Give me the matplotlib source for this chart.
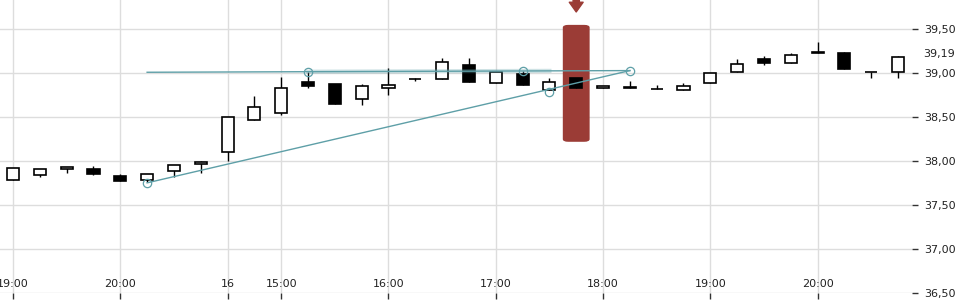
import matplotlib
matplotlib.use("Agg")
import matplotlib.pyplot as plt
from matplotlib.patches import FancyBboxPatch
from matplotlib.transforms import blended_transform_factory
import numpy as np

# OHLC values, 15 minute candles
opens = [37.79, 37.84, 37.91, 37.91, 37.83, 37.785, 37.886, 37.966, 38.10, 38.466,
         38.545, 38.898, 38.878, 38.705, 38.83, 38.93, 38.93, 39.09, 38.886, 38.99,
         38.807, 38.943, 38.83, 38.844, 38.818, 38.807, 38.886, 39.011, 39.162, 39.12,
         39.24, 39.23, 39.015, 39.011]
closes = [37.92, 37.91, 37.93, 37.85, 37.77, 37.85, 37.955, 37.99, 38.50, 38.614,
          38.83, 38.86, 38.655, 38.852, 38.864, 38.935, 39.125, 38.905, 39.01, 38.864,
          38.898, 38.83, 38.852, 38.83, 38.818, 38.852, 39.0, 39.102, 39.12, 39.205,
          39.227, 39.052, 39.015, 39.185]
highs = [37.92, 37.91, 37.93, 37.94, 37.85, 37.85, 37.955, 38.003, 38.50, 38.74,
         38.96, 39.015, 38.878, 38.875, 39.06, 38.947, 39.17, 39.17, 39.01, 39.026,
         38.943, 38.943, 38.852, 38.91, 38.864, 38.886, 39.0, 39.16, 39.196, 39.23,
         39.36, 39.242, 39.015, 39.197]
lows = [37.78, 37.825, 37.86, 37.84, 37.77, 37.757, 37.82, 37.87, 38.0, 38.466,
        38.52, 38.836, 38.655, 38.643, 38.757, 38.91, 38.93, 38.905, 38.886, 38.864,
        38.807, 38.83, 38.83, 38.83, 38.818, 38.807, 38.886, 39.011, 39.094, 39.12,
        39.227, 39.052, 38.943, 38.943]

tick_idx = [0, 4, 8, 10, 14, 18, 22, 26, 30]
tick_labels = ["19:00", "20:00", "16", "15:00", "16:00", "17:00", "18:00", "19:00", "20:00"]
y_ticks = [36.5, 37.0, 37.5, 38.0, 38.5, 39.0, 39.5]
last_price = 39.19

# trend lines (candle index, price)
line_flat = ([5, 23], [39.011, 39.03])
line_rise = ([5, 23], [37.753, 39.03])
band_idx = [11, 20]
circle_idx = [5, 11, 19, 20, 23]
circle_px = [37.753, 39.015, 39.02, 38.79, 39.03]
highlight_idx = 21

teal = "#5e9fa7"
red = "#9b3c36"
grid = "#dddddd"

fig = plt.figure(figsize=(9.6, 3.0), dpi=100)
ax = fig.add_axes([0, 7 / 300, 912 / 960, 293 / 300])
ax.set_xlim(-0.485, 33.52)
ax.set_ylim(36.5, 39.833)

for s in ax.spines.values():
    s.set_visible(False)

ax.set_yticks(y_ticks)
ax.set_yticklabels([f"{v:.2f}".replace(".", ",") for v in y_ticks])
ax.yaxis.tick_right()
ax.tick_params(axis="y", length=4, width=1, color="#333333", labelsize=8,
               labelcolor="#222222", pad=5)
ax.set_xticks(tick_idx)
ax.set_xticklabels([])
ax.tick_params(axis="x", length=4, width=1, color="#333333")
ax.grid(True, color=grid, linewidth=1)
ax.set_axisbelow(True)

tr = blended_transform_factory(ax.transData, ax.transAxes)
for i, lab in zip(tick_idx, tick_labels):
    ax.text(i, 0.012, lab, transform=tr, ha="center", va="bottom", fontsize=8,
            color="#222222")
tr2 = blended_transform_factory(ax.transAxes, ax.transData)
ax.text(1.0 + 11 / 912, last_price + 0.025, f"{last_price:.2f}".replace(".", ","),
        transform=tr2, ha="left", va="center", fontsize=8, color="#222222", clip_on=False)

# highlight bar
hb = FancyBboxPatch((highlight_idx - 0.5, 38.22), 1.0, 39.55 - 38.22,
                    boxstyle="round,pad=0,rounding_size=0.2", mutation_aspect=0.15,
                    facecolor=red, edgecolor="none", zorder=2)
ax.add_patch(hb)
ax.annotate("", xy=(highlight_idx, 39.697), xytext=(highlight_idx, 39.88),
            arrowprops=dict(arrowstyle="simple,head_length=0.7,head_width=1.0,tail_width=0.45",
                            color=red, mutation_scale=10, shrinkA=0, shrinkB=0),
            annotation_clip=False, zorder=3)

# candles
x = np.arange(len(opens))
ax.vlines(x, lows, highs, color="black", linewidth=1, zorder=4)
for i in x:
    o, c = opens[i], closes[i]
    face = "white" if c >= o else "black"
    ax.bar(i, max(abs(c - o), 0.001), bottom=min(o, c), width=0.45, color=face,
           edgecolor="black", linewidth=1.2, zorder=5)

# trend lines
ax.plot(*line_flat, color=teal, linewidth=1, zorder=6)
ax.plot(*line_rise, color=teal, linewidth=1, zorder=6)
bx = np.array(band_idx)
by = np.interp(bx, line_flat[0], line_flat[1])
ax.plot(bx, by, color=teal, alpha=0.3, linewidth=3, zorder=6)
ax.plot(circle_idx, circle_px, linestyle="none", marker="o", markersize=6,
        markerfacecolor="none", markeredgecolor=teal, markeredgewidth=0.9, zorder=7)

fig.savefig("out.png", dpi=100)
